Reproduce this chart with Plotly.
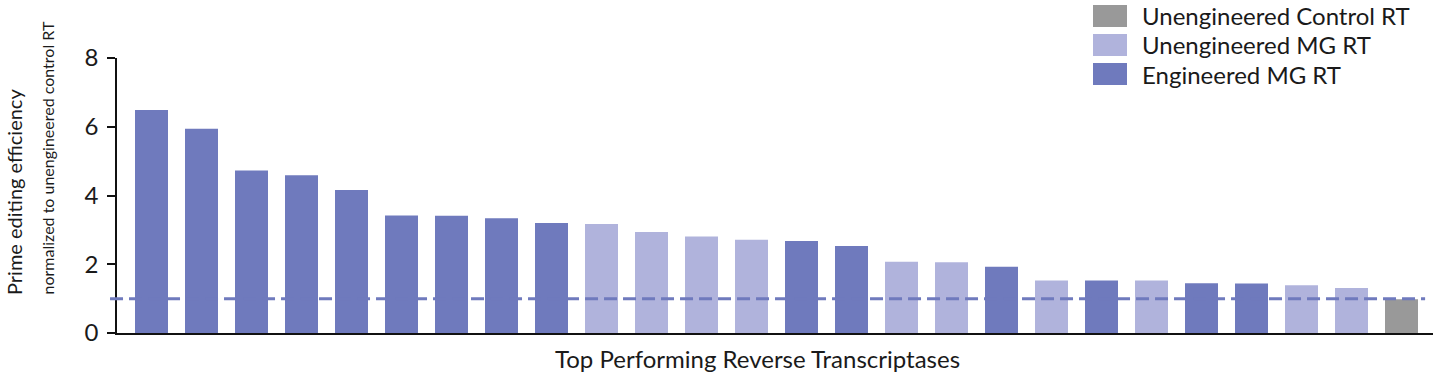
import plotly.graph_objects as go

values = [6.49, 5.94, 4.73, 4.59, 4.16, 3.42, 3.41, 3.34, 3.20,
          3.17, 2.94, 2.81, 2.71, 2.68, 2.53, 2.07, 2.06, 1.93,
          1.53, 1.53, 1.53, 1.45, 1.44, 1.39, 1.31, 0.98]
groups = ["E", "E", "E", "E", "E", "E", "E", "E", "E",
          "U", "U", "U", "U", "E", "E", "U", "U", "E",
          "U", "E", "U", "E", "E", "U", "U", "C"]
legend_labels = ["Unengineered Control RT", "Unengineered MG RT", "Engineered MG RT"]
legend_keys = ["C", "U", "E"]
baseline = 1.0
y_ticks = [0, 2, 4, 6, 8]

colors = {"E": "#6f7abd", "U": "#b0b3dc", "C": "#999999"}
FONT = "Lato"
TXT = "#1a1a1a"

x = list(range(len(values)))
fig = go.Figure()
fig.add_trace(go.Bar(x=x, y=values, marker=dict(color=[colors[g] for g in groups], line_width=0),
                     width=0.66, showlegend=False))

fig.add_shape(type="line", xref="paper", yref="y", x0=-0.0053, x1=0.994, y0=baseline, y1=baseline,
              line=dict(color=colors["E"], width=3, dash="13px,6px"), layer="above")

# custom legend
for i, (lab, key) in enumerate(zip(legend_labels, legend_keys)):
    yc = 16 + i * 29
    fig.add_shape(type="rect", xref="paper", yref="paper",
                  x0=(1093 - 117) / 1316, x1=(1127 - 117) / 1316,
                  y0=(333 - (yc + 11)) / 275, y1=(333 - (yc - 11)) / 275,
                  fillcolor=colors[key], line_width=0)
    fig.add_annotation(xref="paper", yref="paper", x=(1140 - 117) / 1316, y=(333 - yc) / 275,
                       text=lab, showarrow=False, xanchor="left", yanchor="middle",
                       font=dict(family=FONT, size=24, color=TXT))

# y-axis title as two lines
fig.add_annotation(xref="paper", yref="paper", x=(14 - 117) / 1316, y=(333 - 297) / 275,
                   text="Prime editing efficiency", textangle=-90, showarrow=False,
                   xanchor="center", yanchor="bottom", font=dict(family=FONT, size=20, color=TXT))
fig.add_annotation(xref="paper", yref="paper", x=(47 - 117) / 1316, y=(333 - 297) / 275,
                   text="normalized to unengineered control RT", textangle=-90, showarrow=False,
                   xanchor="center", yanchor="bottom", font=dict(family=FONT, size=16, color=TXT))

# x-axis title
fig.add_annotation(xref="paper", yref="paper", x=(757 - 117) / 1316, y=(333 - 358) / 275,
                   text="Top Performing Reverse Transcriptases", showarrow=False,
                   xanchor="center", yanchor="middle", font=dict(family=FONT, size=24, color=TXT))

fig.update_layout(
    width=1443, height=382,
    margin=dict(l=117, r=10, t=58, b=49),
    plot_bgcolor="white", paper_bgcolor="white",
    font=dict(family=FONT, color=TXT),
    xaxis=dict(range=[-0.69, 25.63], showticklabels=False, ticks="", showgrid=False, zeroline=False,
               showline=True, linecolor="#111", linewidth=1.5),
    yaxis=dict(range=[0, 8], tickvals=y_ticks, ticks="outside", ticklen=8, tickwidth=1.5, tickcolor="#111",
               showgrid=False, zeroline=False, showline=True, linecolor="#111", linewidth=1.5,
               tickfont=dict(size=24), ticklabelstandoff=4),
)

fig.write_html("out.html")
